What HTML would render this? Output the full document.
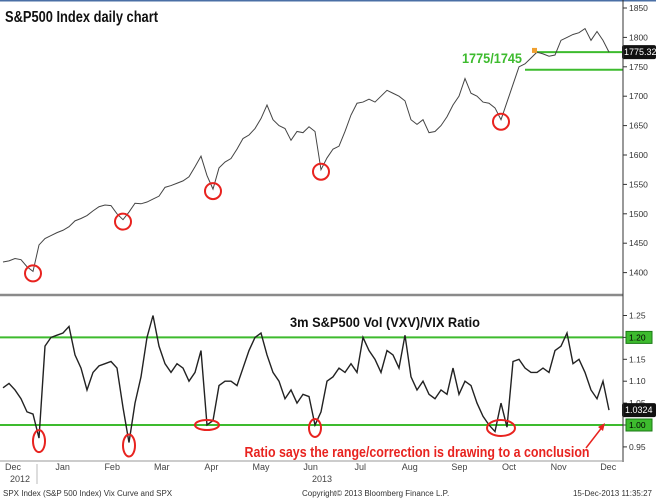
<!DOCTYPE html>
<html><head><meta charset="utf-8"><style>
html,body{margin:0;padding:0;background:#fff;}
svg{display:block;font-family:"Liberation Sans",sans-serif;}
</style></head><body>
<svg id="chart" width="656" height="501" viewBox="0 0 656 501" xmlns="http://www.w3.org/2000/svg">
<rect x="0" y="0" width="656" height="501" fill="#fff"/>
<line x1="0" y1="0.5" x2="656" y2="0.5" stroke="#4a6fa5" stroke-width="2"/>
<g id="topPanel"></g>
<g id="bottomPanel"></g>
<line x1="0" y1="295" x2="623" y2="295" stroke="#8a8a8a" stroke-width="2.5"/>
<line x1="623" y1="0" x2="623" y2="462" stroke="#333" stroke-width="1"/>
<line x1="0" y1="461" x2="623" y2="461" stroke="#999" stroke-width="1"/>
<text x="5" y="22" font-size="15.5" font-weight="bold" fill="#111" textLength="153" lengthAdjust="spacingAndGlyphs">S&amp;P500 Index daily chart</text>
<text x="385" y="327" font-size="14" font-weight="bold" fill="#111" text-anchor="middle" textLength="190" lengthAdjust="spacingAndGlyphs">3m S&amp;P500 Vol (VXV)/VIX Ratio</text>
<text x="462" y="63" font-size="14" font-weight="bold" fill="#3dbb2e" textLength="60" lengthAdjust="spacingAndGlyphs">1775/1745</text>
<text x="417" y="457" font-size="15" font-weight="bold" fill="#e8231f" text-anchor="middle" textLength="345" lengthAdjust="spacingAndGlyphs">Ratio says the range/correction is drawing to a conclusion</text>
<line x1="586" y1="448" x2="603" y2="426" stroke="#e8231f" stroke-width="1.5"/>
<polygon points="605,423 598,427 603,431" fill="#e8231f"/>
<text x="20" y="482" font-size="9" fill="#444" text-anchor="middle">2012</text>
<line x1="37" y1="464" x2="37" y2="484" stroke="#bbb"/>
<text x="322" y="482" font-size="9" fill="#444" text-anchor="middle">2013</text>
<text x="3" y="496" font-size="8" fill="#333">SPX Index (S&amp;P 500 Index) Vix Curve and SPX</text>
<text x="302" y="496" font-size="8" fill="#333">Copyright© 2013 Bloomberg Finance L.P.</text>
<text x="652" y="496" font-size="8" fill="#333" text-anchor="end">15-Dec-2013 11:35:27</text>
</svg>
<script>
const spxClose = [1418,1420,1424,1422,1410,1402,1447,1458,1463,1468,1472,1478,1488,1492,1497,1505,1512,1515,1514,1500,1490,1503,1518,1517,1520,1525,1530,1545,1548,1552,1556,1563,1580,1598,1565,1542,1578,1588,1594,1610,1628,1634,1645,1662,1685,1660,1650,1645,1625,1640,1638,1648,1640,1575,1595,1610,1615,1640,1668,1688,1690,1695,1690,1700,1710,1705,1700,1692,1660,1652,1660,1638,1640,1650,1665,1685,1700,1730,1705,1700,1690,1688,1680,1660,1690,1720,1750,1755,1765,1775,1772,1768,1770,1795,1800,1805,1808,1815,1795,1810,1795,1775];
const ratio = [1.085,1.095,1.08,1.06,1.03,1.025,0.97,1.18,1.20,1.205,1.21,1.225,1.16,1.13,1.08,1.12,1.135,1.14,1.145,1.13,1.04,0.96,1.05,1.11,1.20,1.25,1.18,1.14,1.12,1.14,1.13,1.10,1.12,1.17,1.00,1.01,1.09,1.10,1.10,1.09,1.13,1.17,1.20,1.21,1.16,1.12,1.10,1.06,1.08,1.05,1.07,1.065,1.00,1.03,1.10,1.11,1.13,1.12,1.14,1.12,1.20,1.17,1.15,1.12,1.17,1.16,1.13,1.205,1.11,1.08,1.10,1.07,1.06,1.08,1.07,1.13,1.07,1.10,1.09,1.05,1.02,1.00,0.985,1.05,0.995,1.145,1.15,1.13,1.12,1.12,1.13,1.12,1.17,1.18,1.21,1.14,1.15,1.12,1.08,1.06,1.10,1.034];
const topTicks = [1850,1800,1750,1700,1650,1600,1550,1500,1450,1400];
const bottomTicks = [1.25,1.20,1.15,1.10,1.05,1.00,0.95];
const monthLabels = ["Dec","Jan","Feb","Mar","Apr","May","Jun","Jul","Aug","Sep","Oct","Nov","Dec"];
const supportLevels = [1775,1745];
const ratioBands = [1.20,1.00];
const spxLast = "1775.32";
const ratioLast = "1.0324";
const spxCircleIdx = [5,20,35,53,83];
const ratioCircleIdx = [6,21,34,52,83];

const NS="http://www.w3.org/2000/svg";
function mk(t,a,p){const e=document.createElementNS(NS,t);for(const k in a)e.setAttribute(k,a[k]);p.appendChild(e);return e;}
function xIdx(i,n){return 3+i*(606/(n-1));}
function yTop(v){return 8+(1850-v)*0.588;}
function yBot(v){return 425-(v-1.0)*438;}
function xMonth(i){return 13+i*49.6;}
const gTop=document.getElementById('topPanel'), gBot=document.getElementById('bottomPanel'), svgEl=document.getElementById('chart');

topTicks.forEach(v=>{
  const y=yTop(v);
  const t=mk('line',{x1:623,y1:y,x2:627,y2:y,stroke:'#333'},gTop);
  
  
  const l=mk('text',{x:629,y:y+3,'font-size':8.5,fill:'#333'},gTop);
  l.textContent=v;
  
  
});
bottomTicks.forEach(v=>{
  const y=yBot(v);
  const t=mk('line',{x1:623,y1:y,x2:627,y2:y,stroke:'#333'},gBot);
  
  
  const isBand=ratioBands.some(b=>Math.abs(b-v)<1e-9);
  if(isBand){
    const r=mk('rect',{x:626,y:y-6,width:26,height:12,fill:'#3dbb2e',stroke:'#1a7a14'},gBot);
    
    
  }
  const l=mk('text',{x:629,y:y+3,'font-size':8.5,fill:isBand?'#000':'#333'},gBot);
  l.textContent=v.toFixed(2);
  
  
});
monthLabels.forEach((m,i)=>{
  const l=mk('text',{x:xMonth(i),y:470,'font-size':9,fill:'#444','text-anchor':'middle'},svgEl);
  l.textContent=m;
  
  
});
supportLevels.forEach((v,i)=>{
  const ln=mk('line',{x1:i==0?535:525,y1:yTop(v),x2:623,y2:yTop(v),stroke:'#3dbb2e','stroke-width':2},gTop);
  
  
});
const p1=mk('polyline',{points:spxClose.map((v,i)=>xIdx(i,spxClose.length)+','+yTop(v)).join(' '),fill:'none',stroke:'#444','stroke-width':1},gTop);


const od=mk('rect',{x:532,y:yTop(1777)-3,width:5,height:5,fill:'#f0a030'},gTop);


const ly=yTop(spxClose[spxClose.length-1]);
const b1=mk('rect',{x:622,y:ly-7,width:34,height:14,fill:'#111',rx:2},gTop);


const t1=mk('text',{x:624,y:ly+3,'font-size':9,fill:'#fff'},gTop);
t1.textContent=spxLast;


spxCircleIdx.forEach(i=>{
  const c=mk('circle',{cx:xIdx(i,spxClose.length),cy:yTop(spxClose[i])+2,r:8,fill:'none',stroke:'#e8231f','stroke-width':2},gTop);
  
  
});
ratioBands.forEach(v=>{
  const ln=mk('line',{x1:0,y1:yBot(v),x2:623,y2:yBot(v),stroke:'#3dbb2e','stroke-width':2},gBot);
  
  
});
const p2=mk('polyline',{points:ratio.map((v,i)=>xIdx(i,ratio.length)+','+yBot(v)).join(' '),fill:'none',stroke:'#222','stroke-width':1.4},gBot);


const ry=yBot(ratio[ratio.length-1]);
const b2=mk('rect',{x:622,y:ry-7,width:34,height:14,fill:'#111',rx:2},gBot);


const t2=mk('text',{x:625,y:ry+3,'font-size':9,fill:'#fff'},gBot);
t2.textContent=ratioLast;


const ell=[[6,11],[6,11],[12,5],[6,9],[14,8]];
ratioCircleIdx.forEach((i,k)=>{
  const c=mk('ellipse',{cx:xIdx(i,ratio.length),cy:Math.max(yBot(ratio[i]),425)+(k==2?0:3),rx:ell[k][0],ry:ell[k][1],fill:'none',stroke:'#e8231f','stroke-width':2},gBot);
  
  
});
</script>
</body></html>
